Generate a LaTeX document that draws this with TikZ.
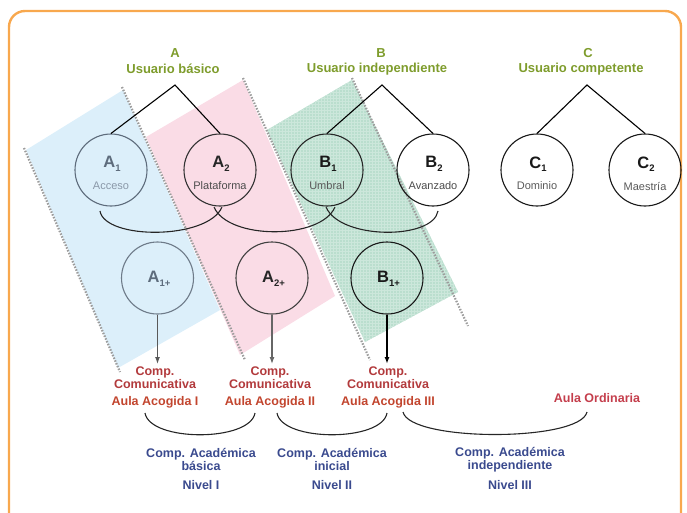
\documentclass[tikz,border=0pt]{standalone}
\usepackage{fontspec}
\setmainfont{Liberation Sans}
\usetikzlibrary{arrows.meta,patterns}
\definecolor{frameor}{HTML}{F8A84E}
\definecolor{bandblue}{HTML}{DCEFFA}
\definecolor{bandpink}{HTML}{FADCE6}
\definecolor{bandgreen}{HTML}{BADECE}
\definecolor{gridgreen}{HTML}{CCE7DB}
\definecolor{dotgray}{HTML}{9C9C9C}
\definecolor{titlegreen}{HTML}{7E9C2C}
\definecolor{redtxt}{HTML}{B23A3C}
\definecolor{aulatxt}{HTML}{C2452E}
\definecolor{ordtxt}{HTML}{C43E4C}
\definecolor{bluetxt}{HTML}{3A4A8E}
\definecolor{grayblue}{HTML}{5E6C7C}
\definecolor{lightgb}{HTML}{8A98A8}
\newcommand\lsub[1]{\raisebox{-3.5pt}{\fontsize{9.5}{9.5}\selectfont #1}}
\begin{document}
\begin{tikzpicture}[x=1pt,y=-1pt,
  titletxt/.style={font=\fontsize{13}{13}\selectfont\bfseries, text=titlegreen, inner sep=0pt},
  lvl/.style={circle, draw, line width=1.1pt, minimum size=72pt, inner sep=0pt},
  bigl/.style={font=\fontsize{16.5}{16.5}\selectfont\bfseries, inner sep=0pt},
  smalll/.style={font=\fontsize{11}{11}\selectfont, inner sep=0pt},
  tree/.style={line width=1.1pt, black},
  dots/.style={dotgray, line width=2.2pt, dash pattern=on 1.5pt off 1.5pt},
  comm/.style={font=\fontsize{12.5}{11}\selectfont\bfseries, text=redtxt, align=center, inner sep=0pt},
  aula/.style={font=\fontsize{12.5}{12.5}\selectfont\bfseries, text=aulatxt, inner sep=0pt},
  acad/.style={font=\fontsize{12.5}{11}\selectfont\bfseries, text=bluetxt, align=center, inner sep=0pt},
  brace/.style={line width=1.1pt, black!85},
  arr/.style={line width=1.2pt, -{Latex[length=7pt,width=5pt]}}]
\useasboundingbox (0,0) rectangle (687,512);
% frame
\draw[frameor, line width=2.4pt, rounded corners=16pt] (9,11) rectangle (681,545);
% bands
\fill[bandblue] (26,150) -- (123,90) -- (220,310) -- (118,368) -- cycle;
\fill[bandpink] (146,137) -- (243,80) -- (335,296) -- (240,355) -- cycle;
\fill[bandgreen, postaction={pattern=grid, pattern color=gridgreen}] (267,130) -- (352,80) -- (458,292) -- (365,342) -- cycle;
\draw[dots] (24,148) -- (120,372);
\draw[dots] (122,87) -- (245,360);
\draw[dots] (243,78) -- (370,360);
\draw[dots] (352,78) -- (468,326);
% titles
\node[titletxt] (tA) at (175,53) {A};
\node[titletxt] (uA) at (173,69) {Usuario básico};
\node[titletxt] (tB) at (381,53) {B};
\node[titletxt] (uB) at (377,69) {Usuario independiente};
\node[titletxt] (tC) at (588,53) {C};
\node[titletxt] (uC) at (581,69) {Usuario competente};
% top circles
\node[lvl, draw=grayblue] (A1) at (111,170) {};
\node[lvl, draw=black!80] (A2) at (220,170) {};
\node[lvl, draw=black!85] (B1) at (327,170) {};
\node[lvl, draw=black!90] (B2) at (433,170) {};
\node[lvl, draw=black!90] (C1) at (537,170) {};
\node[lvl, draw=black!90] (C2) at (645,170) {};
\node[bigl, text=grayblue] (A1t) at (112,164) {A\lsub{1}};
\node[smalll, text=lightgb] (A1s) at (111,186) {Acceso};
\node[bigl, text=black!85] (A2t) at (221,164) {A\lsub{2}};
\node[smalll, text=black!70] (A2s) at (220,186) {Plataforma};
\node[bigl, text=black!90] (B1t) at (328,164) {B\lsub{1}};
\node[smalll, text=black!65] (B1s) at (327,186) {Umbral};
\node[bigl, text=black!90] (B2t) at (434,164) {B\lsub{2}};
\node[smalll, text=black!70] (B2s) at (433,186) {Avanzado};
\node[bigl, text=black!90] (C1t) at (538,164) {C\lsub{1}};
\node[smalll, text=black!65] (C1s) at (537,186) {Dominio};
\node[bigl, text=black!90] (C2t) at (646,164) {C\lsub{2}};
\node[smalll, text=black!65] (C2s) at (645,186) {Maestría};
% trees
\coordinate (apA) at (175,85);
\coordinate (apB) at (382,85);
\coordinate (apC) at (587,85);
\draw[tree] (A1.north) -- (apA) -- (A2.north);
\draw[tree] (B1.north) -- (apB) -- (B2.north);
\draw[tree] (C1.north) -- (apC) -- (C2.north);
% middle braces
\coordinate (m1s) at (100,211);
\coordinate (m1e) at (222,207);
\coordinate (m2s) at (214,207);
\coordinate (m2e) at (335,207);
\coordinate (m3s) at (326,207);
\coordinate (m3e) at (438,211);
\draw[brace] (m1s) .. controls (105,240) and (208,240) .. (m1e);
\draw[brace] (m2s) .. controls (228,240) and (321,240) .. (m2e);
\draw[brace] (m3s) .. controls (340,240) and (433,240) .. (m3e);
% second row
\node[lvl, draw=grayblue!90] (A1p) at (157.5,278) {};
\node[lvl, draw=black!75] (A2p) at (272,278) {};
\node[lvl, draw=black!90] (B1p) at (387,278) {};
\node[bigl, text=grayblue] (A1pt) at (159,279) {A\lsub{1+}};
\node[bigl, text=black!85] (A2pt) at (273.5,279) {A\lsub{2+}};
\node[bigl, text=black!90] (B1pt) at (388.5,279) {B\lsub{1+}};
% outcome texts
\node[comm] (cc1) at (155,377.5) {Comp.\\Comunicativa};
\node[comm] (cc2) at (270,377.5) {Comp.\\Comunicativa};
\node[comm] (cc3) at (388,377.5) {Comp.\\Comunicativa};
\coordinate (ar1) at (157.5,364);
\coordinate (ar2) at (272,364);
\coordinate (ar3) at (387,364);
\draw[arr, black!65] (A1p.south) -- (ar1);
\draw[arr, black!60] (A2p.south) -- (ar2);
\draw[arr, black, line width=1.5pt] (B1p.south) -- (ar3);
\node[aula] (aa1) at (155,402) {Aula Acogida I};
\node[aula] (aa2) at (270,402) {Aula Acogida II};
\node[aula] (aa3) at (388,402) {Aula Acogida III};
\node[aula, text=ordtxt] (ao) at (597,398) {Aula Ordinaria};
% bottom braces
\coordinate (b1s) at (145,413);
\coordinate (b1e) at (255,413);
\coordinate (b2s) at (277,413);
\coordinate (b2e) at (387,413);
\coordinate (b3s) at (403,412);
\coordinate (b3e) at (587,412);
\draw[brace] (b1s) .. controls (150,442) and (250,442) .. (b1e);
\draw[brace] (b2s) .. controls (282,442) and (382,442) .. (b2e);
\draw[brace] (b3s) .. controls (410,442) and (580,442) .. (b3e);
% academic texts
\node[acad] (ca1) at (201,459.5) {Comp. Académica\\básica};
\node[acad] (ca2) at (332,459.5) {Comp. Académica\\inicial};
\node[acad] (ca3) at (510,459.5) {Comp. Académica\\independiente};
\node[acad] (nv1) at (201,485) {Nivel I};
\node[acad] (nv2) at (332,485) {Nivel II};
\node[acad] (nv3) at (510,485) {Nivel III};
\end{tikzpicture}
\end{document}
